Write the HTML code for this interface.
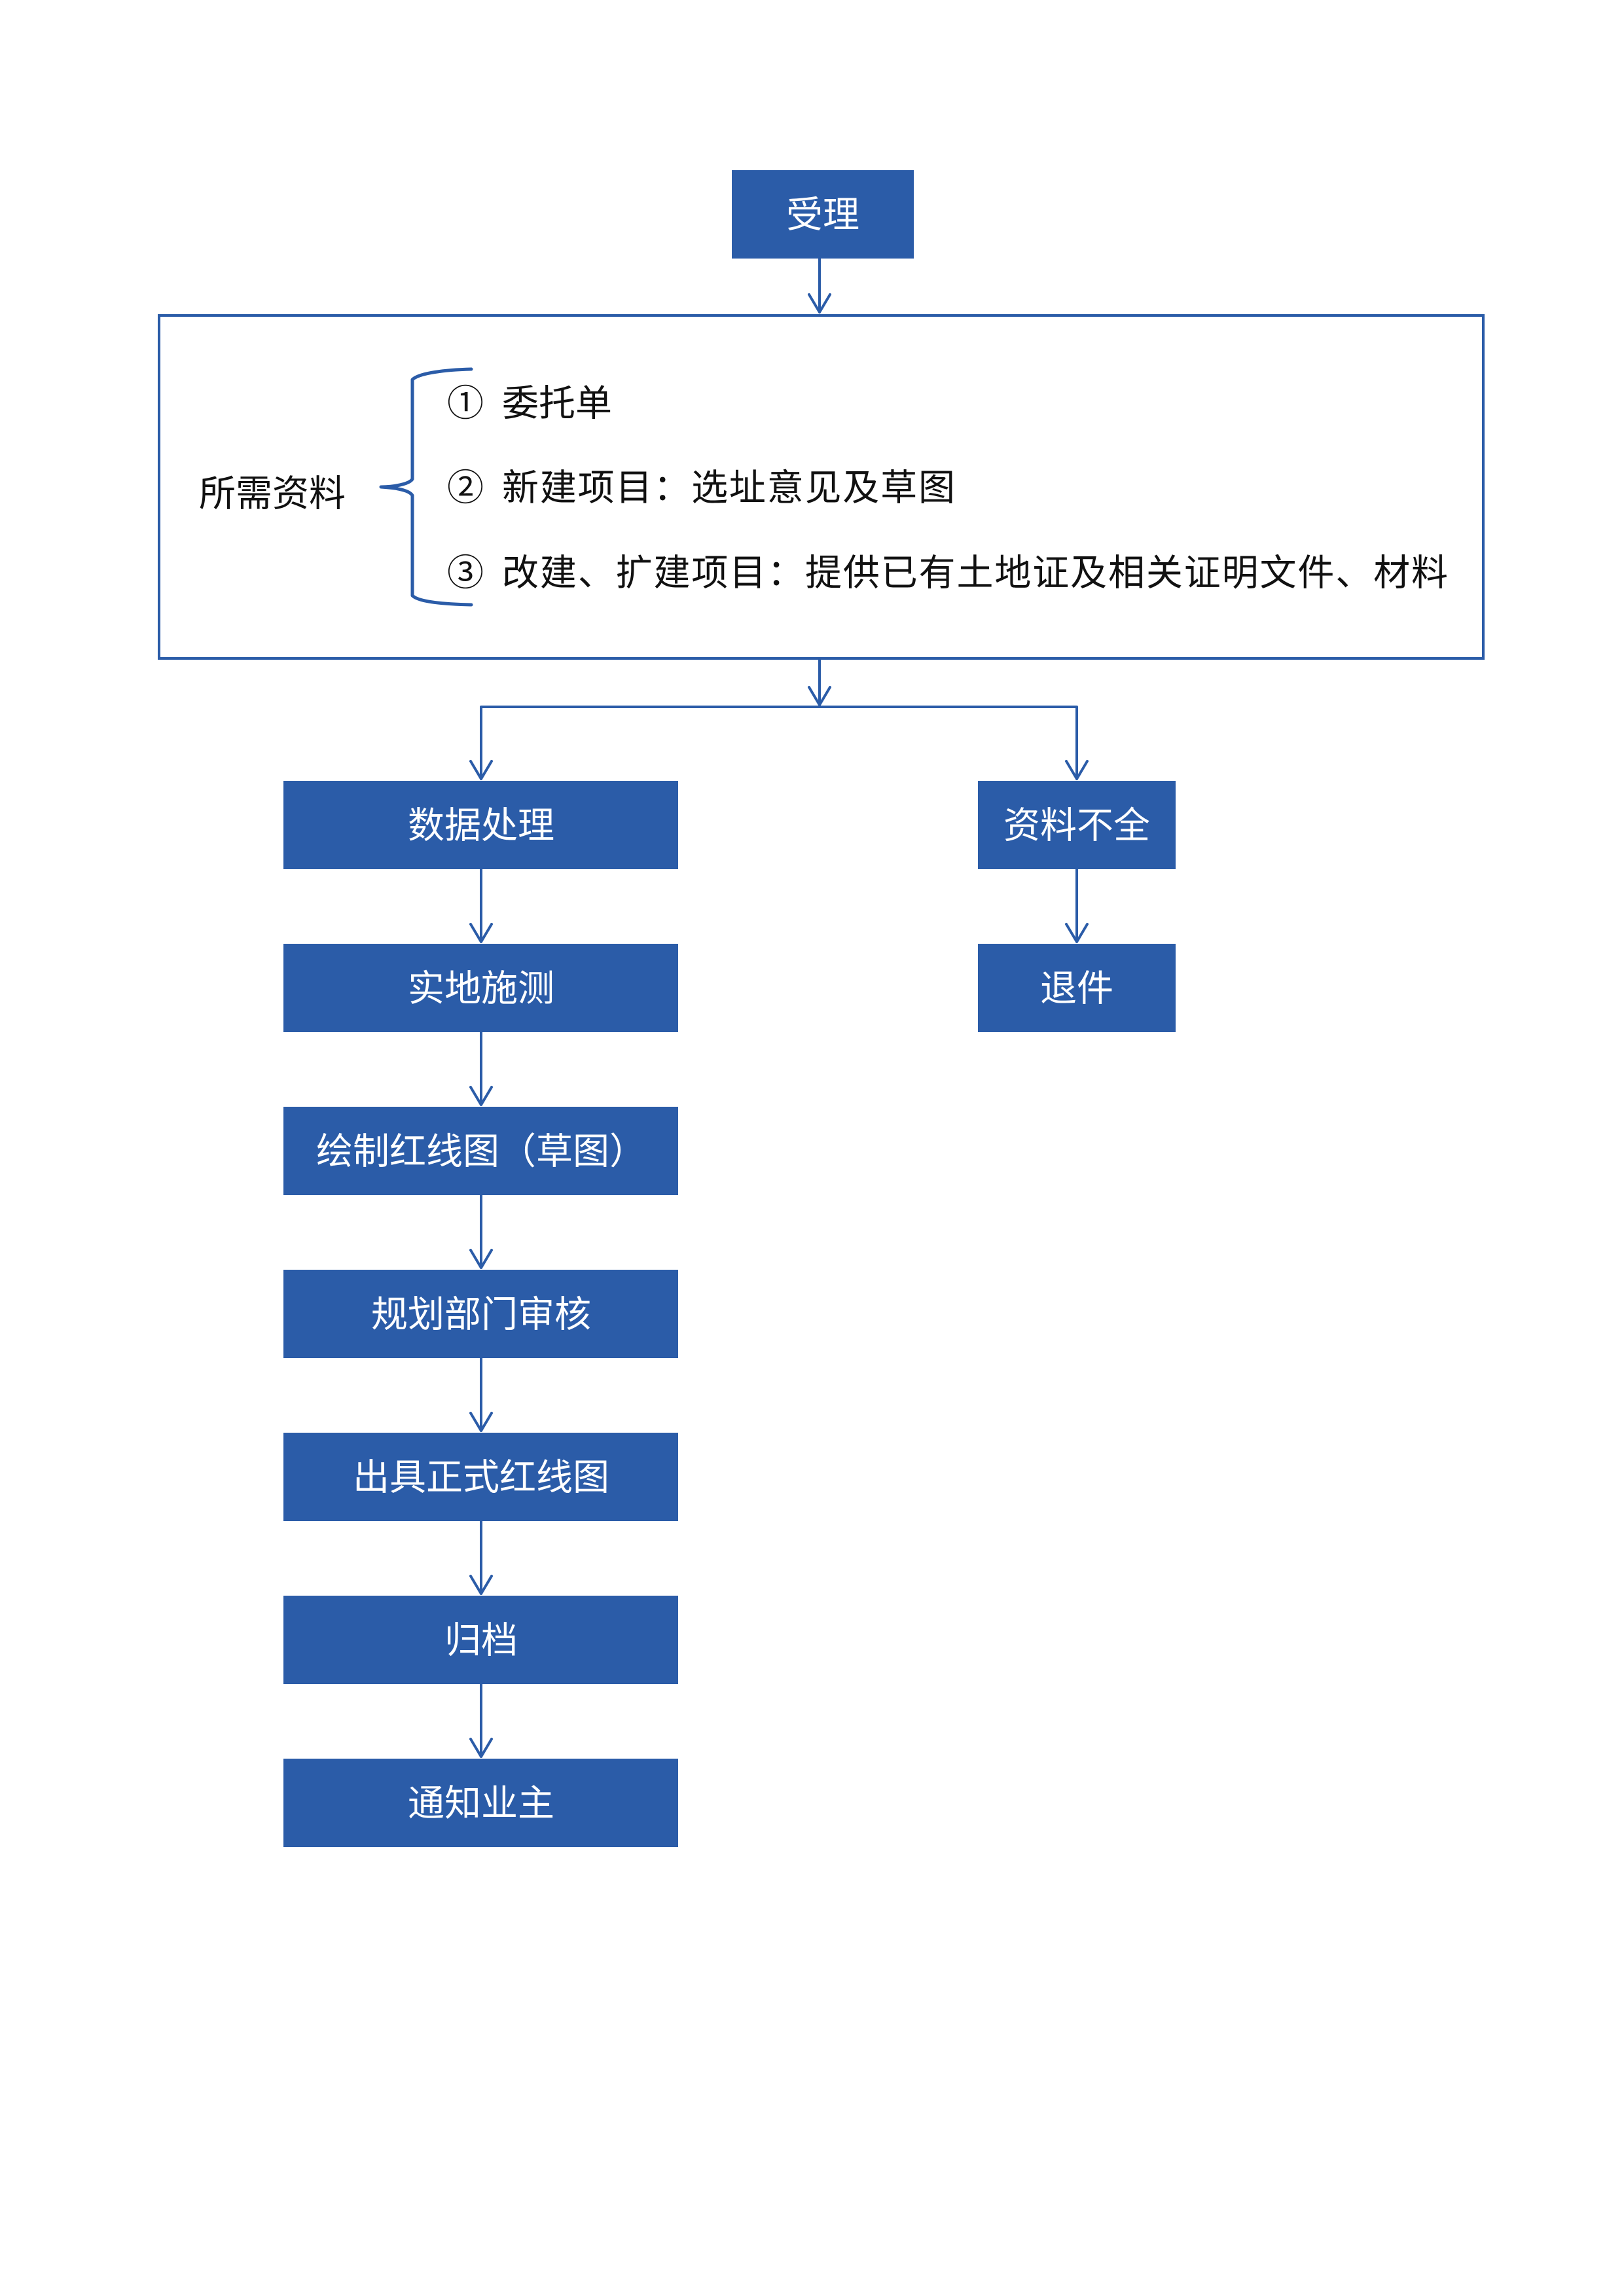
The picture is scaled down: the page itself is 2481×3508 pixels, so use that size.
<!DOCTYPE html>
<html><head><meta charset="utf-8"><style>
html,body{margin:0;padding:0;background:#fff}
svg{display:block}
text{font-family:"Liberation Sans","Noto Sans CJK SC",sans-serif}
.w{fill:#fff;font-size:56px;text-anchor:middle;dominant-baseline:central}
.b{fill:#111;font-size:56px;dominant-baseline:central}
</style></head><body>
<svg width="2481" height="3508" viewBox="0 0 2481 3508" xmlns="http://www.w3.org/2000/svg">
<g fill="#2B5CA8">
<rect x="1118" y="260" width="278" height="135"/>
<rect x="433" y="1193" width="603" height="135"/>
<rect x="433" y="1442" width="603" height="135"/>
<rect x="433" y="1691" width="603" height="135"/>
<rect x="433" y="1940" width="603" height="135"/>
<rect x="433" y="2189" width="603" height="135"/>
<rect x="433" y="2438" width="603" height="135"/>
<rect x="433" y="2687" width="603" height="135"/>
<rect x="1494" y="1193" width="302" height="135"/>
<rect x="1494" y="1442" width="302" height="135"/>
</g>
<rect x="243" y="482" width="2023" height="524" fill="none" stroke="#2B5CA8" stroke-width="4"/>
<g stroke="#2B5CA8" stroke-width="4" fill="none" stroke-linecap="round" stroke-linejoin="round">
<path d="M1252 395V477M1236 450L1252 477L1268 450"/>
<path d="M1252 1006V1077M1236 1050L1252 1077L1268 1050"/>
<path d="M735 1190V1080H1645V1190"/>
<path d="M719 1163L735 1190L751 1163M1629 1163L1645 1190L1661 1163"/>
<path d="M735 1328V1439M719 1412L735 1439L751 1412"/>
<path d="M735 1577V1688M719 1661L735 1688L751 1661"/>
<path d="M735 1826V1937M719 1910L735 1937L751 1910"/>
<path d="M735 2075V2186M719 2159L735 2186L751 2159"/>
<path d="M735 2324V2435M719 2408L735 2435L751 2408"/>
<path d="M735 2573V2684M719 2657L735 2684L751 2657"/>
<path d="M1645 1328V1439M1629 1412L1645 1439L1661 1412"/>
<path d="M720 564C680 565 640 570 630 580V732C625 740 600 744 582 744C600 745 625 748 630 757V910C640 920 680 923 720 924" stroke-width="5"/>
</g>
<text class="w" x="1257" y="328">受理</text>
<text class="w" x="735" y="1261">数据处理</text>
<text class="w" x="735" y="1510">实地施测</text>
<text class="w" x="735" y="1759">绘制红线图（草图）</text>
<text class="w" x="735" y="2008">规划部门审核</text>
<text class="w" x="735" y="2257">出具正式红线图</text>
<text class="w" x="735" y="2506">归档</text>
<text class="w" x="735" y="2755">通知业主</text>
<text class="w" x="1645" y="1261">资料不全</text>
<text class="w" x="1645" y="1510">退件</text>
<text class="b" x="304" y="754">所需资料</text>
<text class="b" x="683" y="616" font-size="52">①</text>
<text class="b" x="767" y="616">委托单</text>
<text class="b" x="683" y="745" font-size="52">②</text>
<text class="b" x="767" y="745" textLength="692" lengthAdjust="spacing">新建项目：选址意见及草图</text>
<text class="b" x="683" y="875" font-size="52">③</text>
<text class="b" x="767" y="875" textLength="1445" lengthAdjust="spacing">改建、扩建项目：提供已有土地证及相关证明文件、材料</text>
</svg>
</body></html>
